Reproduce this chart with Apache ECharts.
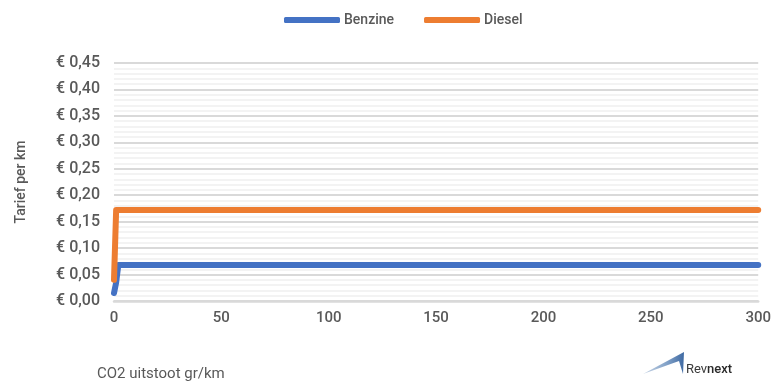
<!DOCTYPE html>
<html>
<head>
<meta charset="utf-8">
<script src="https://cdn.jsdelivr.net/npm/echarts@6/dist/echarts.min.js"></script>
<style>
  html, body { margin: 0; padding: 0; background: #fff; }
  #chart { width: 774px; height: 384px; }
</style>
</head>
<body>
<div id="chart"></div>
<script>
// CO2 emission (g/km) against tariff per km
const seriesNames = ['Benzine', 'Diesel'];
const benzineCo2 = [0, 1, 2, 300];
const benzineTarief = [0.015, 0.035, 0.068, 0.068];
const dieselCo2 = [0, 1, 300];
const dieselTarief = [0.04, 0.172, 0.172];

const xMin = 0, xMax = 300, xStep = 50;
const yMin = 0, yMax = 0.45, yStep = 0.05;

const zip = (xs, ys) => xs.map((x, i) => [x, ys[i]]);
const textColor = '#595959';
const font = 'Roboto, "Liberation Sans", Arial, sans-serif';

const chart = echarts.init(document.getElementById('chart'), null, { renderer: 'canvas' });
chart.setOption({
  animation: false,
  textStyle: { fontFamily: font },
  legend: {
    top: 8,
    left: 279,
    itemWidth: 56,
    itemHeight: 6,
    itemGap: 30,
    icon: 'roundRect',
    textStyle: { color: textColor, fontSize: 14, fontWeight: 500, fontFamily: font, padding: [0, 0, 0, -1] },
    data: seriesNames
  },
  grid: { left: 114, right: 14, top: 63, bottom: 83 },
  xAxis: {
    type: 'value',
    min: xMin, max: xMax, interval: xStep,
    axisLine: { show: true, lineStyle: { color: '#d9d9d9', width: 2.5 } },
    axisTick: { show: false },
    splitLine: { show: false },
    axisLabel: { color: textColor, fontSize: 15, fontWeight: 500, margin: 10, fontFamily: font }
  },
  yAxis: {
    type: 'value',
    min: yMin, max: yMax, interval: yStep,
    name: 'Tarief per km',
    nameLocation: 'middle',
    nameGap: 86,
    nameRotate: 90,
    nameTextStyle: { color: textColor, fontSize: 14, fontWeight: 500, fontFamily: font },
    axisLine: { show: false },
    axisTick: { show: false },
    axisLabel: {
      color: textColor, fontSize: 16, fontWeight: 500, margin: 14, fontFamily: font,
      formatter: v => '€ ' + v.toFixed(2).replace('.', ',')
    },
    splitLine: { show: true, lineStyle: { color: '#d9d9d9', width: 2 } },
    minorTick: { show: false, splitNumber: 5 },
    minorSplitLine: { show: true, lineStyle: { color: '#efefef', width: 1.5 } }
  },
  series: [
    {
      name: seriesNames[0], type: 'line',
      data: zip(benzineCo2, benzineTarief),
      showSymbol: false, symbol: 'none',
      color: '#4472C4',
      lineStyle: { width: 6, cap: 'round', join: 'round' }
    },
    {
      name: seriesNames[1], type: 'line',
      data: zip(dieselCo2, dieselTarief),
      showSymbol: false, symbol: 'none',
      color: '#ED7D31',
      lineStyle: { width: 6, cap: 'round', join: 'round' }
    }
  ],
  graphic: [
    {
      type: 'text', left: 97, top: 367,
      style: { text: 'CO2 uitstoot gr/km', fill: textColor, font: '15px ' + font }
    },
    {
      type: 'polygon',
      shape: { points: [[643, 374], [684, 352], [683, 374], [679, 361]] },
      style: {
        fill: new echarts.graphic.LinearGradient(0, 0, 1, 0, [
          { offset: 0, color: '#c9d6e6' },
          { offset: 0.6, color: '#7f9fc6' },
          { offset: 1, color: '#3f6aa3' }
        ])
      }
    },
    {
      type: 'text', left: 686, top: 363,
      style: {
        text: '{a|Rev}{b|next}',
        rich: {
          a: { fill: '#3a3a3a', font: '13px ' + font },
          b: { fill: '#2a2a2a', font: '500 13px ' + font }
        }
      }
    }
  ]
});
</script>
</body>
</html>
